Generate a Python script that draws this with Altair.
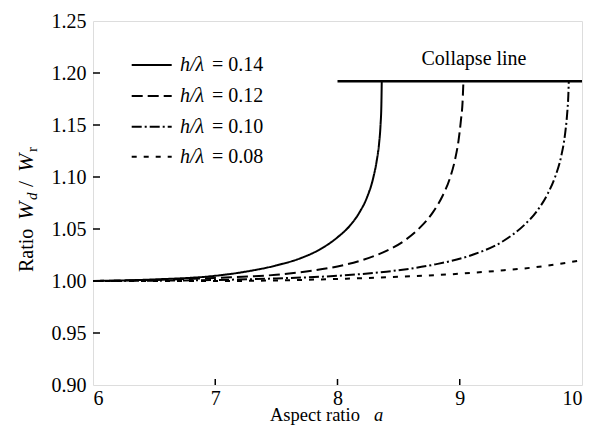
import altair as alt
import pandas as pd

# ---- data ----
a_014 = [6.0, 6.5, 7.0, 7.25, 7.5, 7.7, 7.85, 8.0, 8.1, 8.18, 8.24, 8.29, 8.32, 8.34, 8.352, 8.359, 8.362]
r_014 = [1.000, 1.0015, 1.005, 1.009, 1.015, 1.022, 1.030, 1.042, 1.053, 1.066, 1.080, 1.098, 1.115, 1.132, 1.150, 1.170, 1.192]

a_012 = [6.0, 6.5, 7.0, 7.5, 7.8, 8.0, 8.2, 8.4, 8.55, 8.68, 8.78, 8.86, 8.92, 8.96, 8.99, 9.01, 9.023, 9.03]
r_012 = [1.000, 1.001, 1.003, 1.006, 1.010, 1.014, 1.020, 1.029, 1.039, 1.052, 1.066, 1.082, 1.099, 1.116, 1.135, 1.155, 1.172, 1.192]

a_010 = [6.0, 7.0, 7.5, 8.0, 8.4, 8.8, 9.1, 9.35, 9.52, 9.63, 9.72, 9.78, 9.83, 9.86, 9.878, 9.888, 9.892]
r_010 = [1.000, 1.001, 1.0025, 1.005, 1.009, 1.016, 1.025, 1.038, 1.053, 1.067, 1.084, 1.100, 1.120, 1.140, 1.160, 1.178, 1.192]

a_008 = [6.0, 7.0, 7.7, 8.0, 8.5, 9.0, 9.33, 9.6, 10.0]
r_008 = [1.000, 1.000, 1.001, 1.002, 1.004, 1.007, 1.010, 1.013, 1.020]

series_keys = ["0.14", "0.12", "0.10", "0.08"]
collapse_a = [8.0, 10.0]
collapse_r = [1.192, 1.192]

x_ticks = [6, 7, 8, 9, 10]
y_ticks = [0.90, 0.95, 1.00, 1.05, 1.10, 1.15, 1.20, 1.25]
x_inner_ticks = [7, 8, 9]
y_inner_ticks = [0.95, 1.00, 1.05, 1.10, 1.15, 1.20]

# ---- build tables ----
rows = []
for key, xs, ys in zip(series_keys, [a_014, a_012, a_010, a_008], [r_014, r_012, r_010, r_008]):
    for x, y in zip(xs, ys):
        rows.append({"series": key, "a": x, "r": y})
df = pd.DataFrame(rows)
collapse_df = pd.DataFrame({"a": collapse_a, "r": collapse_r})

W, H = 489, 364
FONT = "Liberation Serif"
dash_range = [[1, 0], [11, 5], [10, 3, 2, 3], [5, 7]]

xsc = alt.Scale(domain=[6, 10], nice=False, zero=False)
ysc = alt.Scale(domain=[0.90, 1.25], nice=False, zero=False)

axis_common = dict(title=None, domain=False, ticks=False, tickSize=0, grid=False,
                   labelFont=FONT, labelFontSize=20, labelColor="black")

curves = alt.Chart(df).mark_line(color="black", strokeWidth=2, interpolate="monotone").encode(
    x=alt.X("a:Q", scale=xsc, axis=alt.Axis(values=x_ticks, format="d", labelPadding=3, **axis_common)),
    y=alt.Y("r:Q", scale=ysc, axis=alt.Axis(values=y_ticks, format=".2f", labelPadding=7, **axis_common)),
    strokeDash=alt.StrokeDash("series:N", scale=alt.Scale(domain=series_keys, range=dash_range), legend=None),
    detail="series:N",
)

collapse = alt.Chart(collapse_df).mark_line(color="black", strokeWidth=2.5).encode(
    x=alt.X("a:Q", scale=xsc, title=None),
    y=alt.Y("r:Q", scale=ysc, title=None),
)

xt = alt.Chart(pd.DataFrame({"a": x_inner_ticks})).mark_rule(color="black", strokeWidth=1.5).encode(
    x=alt.X("a:Q", scale=xsc, title=None), y=alt.value(H), y2=alt.value(H - 6)
)
yt = alt.Chart(pd.DataFrame({"r": y_inner_ticks})).mark_rule(color="black", strokeWidth=1.5).encode(
    y=alt.Y("r:Q", scale=ysc, title=None), x=alt.value(0), x2=alt.value(7)
)

def txt(s, x, y, size=20, italic=False, angle=0, align="left", baseline="alphabetic"):
    kw = dict(font=FONT, fontSize=size, color="black", align=align, baseline=baseline)
    if italic:
        kw["fontStyle"] = "italic"
    if angle:
        kw["angle"] = angle
    return alt.Chart(pd.DataFrame({"t": [s]})).mark_text(**kw).encode(
        text="t:N", x=alt.value(x), y=alt.value(y)
    )

layers = [curves, collapse, xt, yt]

# legend
leg_y = [44, 75, 105.7, 135.7]
for i, key in enumerate(series_keys):
    y = leg_y[i]
    layers.append(
        alt.Chart(pd.DataFrame({"k": [key]})).mark_rule(color="black", strokeWidth=2, strokeDash=dash_range[i]).encode(
            x=alt.value(38.7), x2=alt.value(78.7), y=alt.value(y)
        )
    )
    layers.append(txt("h/λ", 87, y, italic=True, baseline="middle"))
    layers.append(txt("= " + key, 119, y, baseline="middle"))

# collapse label
layers.append(txt("Collapse line", 381, 44, align="center"))

# x title
layers.append(txt("Aspect ratio", 177, 400, size=18.5))
layers.append(txt("a", 281, 400, size=18.5, italic=True))

# y title (rotated)
layers.append(txt("Ratio", -60, 251, angle=270))
layers.append(txt("W", -60, 199, size=22, italic=True, angle=270))
layers.append(txt("d", -56, 179, size=15, italic=True, angle=270))
layers.append(txt("/", -60, 166, size=22, angle=270))
layers.append(txt("W", -60, 151, size=22, italic=True, angle=270))
layers.append(txt("r", -56, 131, size=15, angle=270))

chart = alt.layer(*layers).properties(
    width=W, height=H,
    autosize=alt.AutoSizeParams(type="none"),
    padding={"left": 85, "top": 13, "right": 11, "bottom": 40},
).configure_view(stroke="black", strokeWidth=2).configure(background="white")

chart.save("out.html", embed_options={"renderer": "svg", "actions": False})
